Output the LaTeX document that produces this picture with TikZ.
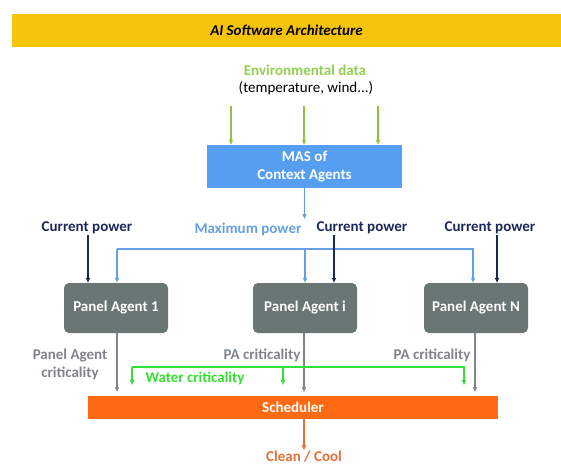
\documentclass[tikz,border=0pt]{standalone}
\usepackage{fontspec}
\setmainfont{Carlito}
\usetikzlibrary{arrows.meta}

\newlength{\du}
\setlength{\du}{1pt}

\definecolor{bannergold}{RGB}{246,196,10}
\definecolor{envgreen}{RGB}{146,208,80}
\definecolor{envarrow}{RGB}{140,198,63}
\definecolor{masblue}{RGB}{85,158,240}
\definecolor{maxblue}{RGB}{100,160,230}
\definecolor{navyline}{RGB}{27,40,86}
\definecolor{panelgray}{RGB}{106,118,116}
\definecolor{critgray}{RGB}{125,132,140}
\definecolor{watergreen}{RGB}{51,224,51}
\definecolor{schedorange}{RGB}{255,106,19}
\definecolor{cleanorange}{RGB}{228,112,52}

\tikzset{
  lbl/.style={font=\bfseries\fontsize{15}{18}\selectfont, inner sep=1pt},
  panelbox/.style={draw=none, fill=panelgray, rounded corners=5\du,
    minimum width=104\du, minimum height=50\du, text=white,
    font=\bfseries\fontsize{15}{18}\selectfont},
  arr/.style={-{Triangle[length=5pt,width=4pt]}, line width=1.1\du},
}

\begin{document}
\begin{tikzpicture}[x=\du,y=-\du]
\useasboundingbox (0,0) rectangle (561,468);

% banner
\node (banner) [fill=bannergold, minimum width=549\du, minimum height=33\du,
  inner sep=0pt, font=\bfseries\itshape\fontsize{15}{18}\selectfont]
  at (286.5,30.5) {AI Software Architecture};

% environment
\node (envdata) [lbl, text=envgreen] at (305,70) {Environmental data};
\node (envsub) [lbl, font=\fontsize{15}{18}\selectfont] at (306,88) {(temperature, wind...)};

\node (mas) [fill=masblue, minimum width=195\du, minimum height=43\du,
  text=white, align=center, lbl, inner sep=0pt]
  at (304.5,166.5) {MAS of\\Context Agents};

\coordinate (env1) at (231,106);
\coordinate (env2) at (304,106);
\coordinate (env3) at (378,106);
\foreach \src in {env1,env2,env3}
  \draw[arr, envarrow] (\src) -- (\src |- mas.north);

% power
\node (maxp) [lbl, text=maxblue] at (248,229) {Maximum power};
\coordinate (maxend) at (304.5,219);
\draw[arr, maxblue] (mas.south) -- (maxend);

\node (cp1) [lbl, text=navyline] at (87,228) {Current power};
\node (cpi) [lbl, text=navyline] at (362,228) {Current power};
\node (cpN) [lbl, text=navyline] at (490,228) {Current power};

% panel agents
\node (p1) [panelbox] at (116,308) {Panel Agent 1};
\node (pi) [panelbox] at (305,308) {Panel Agent i};
\node (pN) [panelbox] at (476,308) {Panel Agent N};

\coordinate (busL) at (117,249);
\coordinate (busR) at (473,249);
\draw[arr, maxblue] (busL) -- (busL |- p1.north);
\draw[arr, maxblue] (busL) -- (busR) -- (busR |- pN.north);
\draw[arr, maxblue] (busL -| pi.north) -- (pi.north);

\draw[arr, navyline, line width=1.4\du] ([xshift=1\du]cp1.south) -- ([xshift=1\du]cp1.south |- p1.north);
\draw[arr, navyline, line width=1.4\du] ([xshift=-28\du]cpi.south) -- ([xshift=-28\du]cpi.south |- pi.north);
\draw[arr, navyline, line width=1.4\du] ([xshift=7\du]cpN.south) -- ([xshift=7\du]cpN.south |- pN.north);

% scheduler
\node (sched) [fill=schedorange, minimum width=410\du, minimum height=23\du,
  inner sep=0pt, text=white, lbl] at (293,407.5) {Scheduler};

\node (crit1) [lbl, text=critgray, align=center]
  at (70,364) {Panel Agent\\criticality};
\node (criti) [lbl, text=critgray] at (262,355) {PA criticality};
\node (critN) [lbl, text=critgray] at (432,355) {PA criticality};

\coordinate (g1) at (117,392);
\coordinate (g2) at (304,392);
\coordinate (g3) at (475,392);
\draw[arr, critgray] (p1.south -| g1) -- (g1);
\draw[arr, critgray] (pi.south -| g2) -- (g2);
\draw[arr, critgray] (pN.south -| g3) -- (g3);

% water
\node (water) [lbl, text=watergreen] at (195,378) {Water criticality};
\coordinate (wL) at (132,367);
\coordinate (wM) at (283,367);
\coordinate (wR) at (464,367);
\draw[arr, watergreen, line width=1.5\du] (wL) -- ([yshift=-18\du]wL);
\draw[arr, watergreen, line width=1.5\du] (wL) -- (wR) -- ([yshift=-18\du]wR);
\draw[arr, watergreen, line width=1.5\du] (wM) -- ([yshift=-18\du]wM);

% output
\node (clean) [lbl, text=cleanorange] at (304,457) {Clean / Cool};
\draw[arr, cleanorange] (sched.south -| clean.north) -- (clean.north);
\end{tikzpicture}
\end{document}
